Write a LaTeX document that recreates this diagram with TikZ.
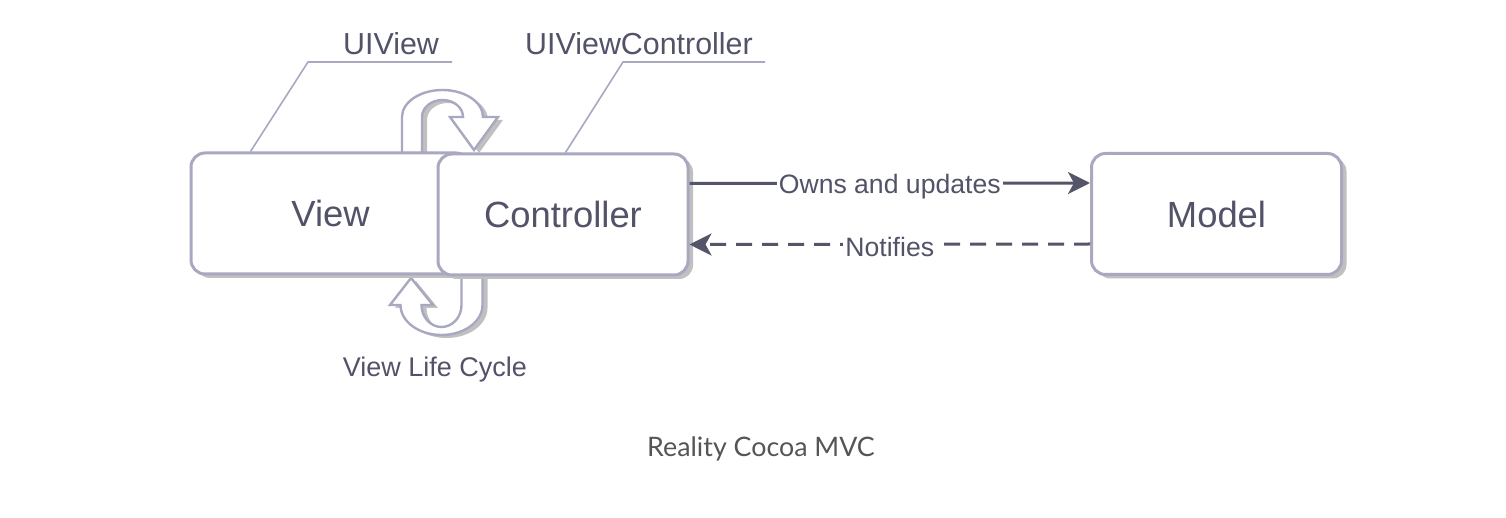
\documentclass[tikz,border=0pt]{standalone}
\usepackage{fontspec}
\setmainfont{Liberation Sans}
\newfontfamily\capfont{Lato}
\usetikzlibrary{arrows.meta, positioning, shadows, calc}

\definecolor{boxline}{RGB}{168,168,192}
\definecolor{txtgray}{RGB}{82,82,104}
\definecolor{linkgray}{RGB}{85,85,105}
\definecolor{capgray}{RGB}{85,85,85}
\definecolor{shadegray}{RGB}{192,192,192}

\begin{document}
\begin{tikzpicture}[x=0.5pt,y=-0.5pt,
    mvcbox/.style={rectangle,rounded corners=7pt,draw=boxline,line width=1.5pt,
          fill=white,minimum width=125pt,minimum height=60.5pt,text=txtgray,
          font=\fontsize{18.2}{22}\selectfont,
          drop shadow={shadow xshift=2.5pt,shadow yshift=-2pt,fill=shadegray,opacity=1}},
    looparrow/.style={draw=boxline,line width=1.2pt,fill=white,
          drop shadow={shadow xshift=2.5pt,shadow yshift=-1.5pt,fill=shadegray,opacity=1}},
    leader/.style={draw=boxline,line width=0.8pt},
    tag/.style={text=txtgray,font=\fontsize{15.2}{18}\selectfont},
    link/.style={draw=linkgray,line width=1.5pt,
          -{Stealth[length=11pt,width=11pt,inset=3pt]}},
    linklbl/.style={fill=white,inner sep=1pt,text=txtgray,yshift=-1.5pt,
          font=\fontsize{13.3}{16}\selectfont}]
    \useasboundingbox (0,0) rectangle (1506,518);
    % life cycle arrows (behind the boxes)
    \path[looparrow] (402,153) -- (402,117)
         arc[start angle=180,end angle=0,x radius=20.25pt,y radius=13.5pt]
         -- (498,117) -- (474,150) -- (450,117) -- (463,117)
         arc[start angle=0,end angle=180,x radius=10.25pt,y radius=8.5pt]
         -- (422,153) -- cycle;
    \path[looparrow] (482.5,274) -- (482.5,305)
         arc[start angle=0,end angle=-180,x radius=20.5pt,y radius=15pt]
         -- (390,305) -- (411,278) -- (433,305) -- (421.5,305)
         arc[start angle=180,end angle=360,x radius=10pt,y radius=11pt]
         -- (461.5,274) -- cycle;
    % boxes
    \node[mvcbox,minimum width=139.5pt] (view) at (330.5,213.5) {View};
    \node[mvcbox] (ctrl) at (563,214.5) {Controller};
    \node[mvcbox] (model) at (1216.5,214) {Model};
    % UIView tag
    \node[tag] (uiview) at (391,44) {UIView};
    \coordinate (uivbend) at (308,62);
    \coordinate (uivend) at (452,62);
    \draw[leader] ([xshift=30.5pt]view.north west) -- (uivbend) -- (uivend);
    % UIViewController tag
    \node[tag] (uivc) at (639,44) {UIViewController};
    \coordinate (uivcbend) at (623,62);
    \coordinate (uivcend) at (765,62);
    \draw[leader] ([xshift=64.5pt]ctrl.north west) -- (uivcbend) -- (uivcend);
    % links
    \draw[link] ([yshift=15.5pt]ctrl.east) -- ([yshift=15.5pt]model.west)
         node[linklbl,midway] (owns) {Owns and updates};
    \draw[link,dash pattern=on 8pt off 5pt] ([yshift=-15pt]model.west)
         -- ([yshift=-15pt]ctrl.east)
         node[linklbl,midway] (notif) {Notifies};
    % captions
    \node[text=txtgray,font=\fontsize{13.5}{16}\selectfont] (cycle) at (435,370)
         {View Life Cycle};
    \node[text=capgray,font=\capfont\fontsize{13.4}{16}\selectfont] (caption)
         at (761,449) {Reality Cocoa MVC};
\end{tikzpicture}
\end{document}
